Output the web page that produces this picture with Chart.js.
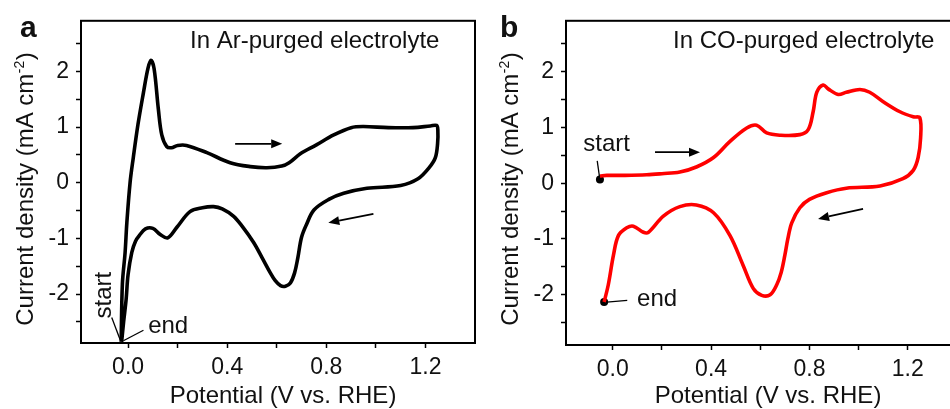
<!DOCTYPE html>
<html>
<head>
<meta charset="utf-8">
<script src="https://cdn.jsdelivr.net/npm/chart.js@4.4.0/dist/chart.umd.min.js"></script>
<style>
  html, body { margin: 0; padding: 0; background: #fff; overflow: hidden; width: 950px; height: 409px; }
  #wrapA { position: absolute; left: 0; top: 0; width: 480px; height: 409px; }
  #wrapB { position: absolute; left: 480px; top: 0; width: 490px; height: 409px; }
</style>
</head>
<body>
<div id="wrapA"><canvas id="chartA"></canvas></div>
<div id="wrapB"><canvas id="chartB"></canvas></div>
<script>
// panel a - Ar-purged electrolyte (potential V vs RHE, current density mA cm-2)
const arPotential = [-0.028, -0.023, -0.012, -0.005, 0.008, 0.021, 0.04, 0.062, 0.08, 0.092, 0.105, 0.122, 0.136, 0.156,
  0.175, 0.2, 0.236, 0.318, 0.412, 0.493, 0.56, 0.62, 0.65, 0.695, 0.76, 0.83, 0.9, 0.95, 1.05, 1.15, 1.22, 1.245,
  1.25, 1.249, 1.24, 1.215, 1.17, 1.1, 0.964, 0.87, 0.81, 0.75, 0.72, 0.7, 0.685, 0.672, 0.655, 0.635, 0.615, 0.594,
  0.574, 0.54, 0.506, 0.46, 0.425, 0.38, 0.345, 0.3, 0.25, 0.197, 0.16, 0.13, 0.1, 0.07, 0.045, 0.03, 0.015, 0.0,
  -0.008, -0.018, -0.026];
const arCurrent = [-2.86, -1.82, -1.25, -0.72, 0.0, 0.45, 1.05, 1.62, 2.05, 2.2, 2.05, 1.33, 0.86, 0.65,
  0.63, 0.67, 0.67, 0.54, 0.36, 0.29, 0.27, 0.3, 0.36, 0.52, 0.68, 0.86, 0.99, 1.01, 0.99, 0.99, 1.02, 1.03,
  0.95, 0.7, 0.45, 0.27, 0.07, -0.05, -0.1, -0.19, -0.3, -0.49, -0.75, -0.98, -1.35, -1.62, -1.8, -1.86, -1.85, -1.76,
  -1.62, -1.34, -1.07, -0.78, -0.6, -0.47, -0.43, -0.45, -0.52, -0.8, -0.99, -0.93, -0.82, -0.83, -0.95, -1.05, -1.25, -1.65,
  -2.1, -2.5, -2.86];

// panel b - CO-purged electrolyte
const coPotential = [-0.052, -0.024, 0.05, 0.138, 0.2, 0.273, 0.34, 0.41, 0.477, 0.545, 0.585, 0.626, 0.68, 0.761,
  0.795, 0.815, 0.83, 0.856, 0.876, 0.917, 0.95, 1.005, 1.045, 1.1, 1.168, 1.222, 1.249, 1.252, 1.242, 1.222, 1.18,
  1.087, 0.95, 0.87, 0.8, 0.761, 0.728, 0.712, 0.7, 0.685, 0.667, 0.64, 0.606, 0.572, 0.53, 0.477, 0.41, 0.34, 0.273,
  0.206, 0.145, 0.125, 0.084, 0.057, 0.023, 0.003, -0.018, -0.035];
const coCurrent = [0.13, 0.14, 0.14, 0.15, 0.17, 0.2, 0.29, 0.46, 0.75, 0.99, 1.04, 0.9, 0.86, 0.87,
  0.96, 1.28, 1.63, 1.76, 1.69, 1.59, 1.63, 1.68, 1.63, 1.46, 1.28, 1.19, 1.17, 0.81, 0.46, 0.23, 0.08,
  -0.05, -0.09, -0.17, -0.29, -0.44, -0.71, -1.0, -1.29, -1.6, -1.82, -2.0, -2.01, -1.89, -1.47, -0.94, -0.53, -0.39, -0.42,
  -0.59, -0.88, -0.88, -0.77, -0.8, -0.94, -1.29, -1.82, -2.13];
const coMarkerPotential = [-0.052, -0.035];
const coMarkerCurrent = [0.065, -2.13];

const xTickValues = [0, 0.2, 0.4, 0.6, 0.8, 1.0, 1.2];
const xTickLabels = ['0.0', '', '0.4', '', '0.8', '', '1.2'];
const yTickValues = [-2.5, -2, -1.5, -1, -0.5, 0, 0.5, 1, 1.5, 2, 2.5];
const yTickLabels = ['', '-2', '', '-1', '', '0', '', '1', '', '2', ''];

const FONT = "'Liberation Sans', Arial, Helvetica, sans-serif";
const INK = '#111';

function toPoints(xs, ys) {
  return xs.map((x, i) => ({ x: x, y: ys[i] }));
}

function labelFor(values, labels, v) {
  const i = values.findIndex(t => Math.abs(t - v) < 1e-6);
  return i < 0 ? '' : labels[i];
}

function drawArrow(ctx, x1, y1, x2, y2) {
  const ang = Math.atan2(y2 - y1, x2 - x1);
  const head = 11, half = 4.5;
  ctx.beginPath();
  ctx.moveTo(x1, y1);
  ctx.lineTo(x2 - Math.cos(ang) * head, y2 - Math.sin(ang) * head);
  ctx.lineWidth = 1.8;
  ctx.stroke();
  ctx.beginPath();
  ctx.moveTo(x2, y2);
  ctx.lineTo(x2 - Math.cos(ang) * head + Math.sin(ang) * half, y2 - Math.sin(ang) * head - Math.cos(ang) * half);
  ctx.lineTo(x2 - Math.cos(ang) * head - Math.sin(ang) * half, y2 - Math.sin(ang) * head + Math.cos(ang) * half);
  ctx.closePath();
  ctx.fill();
}

// frame, panel letter, notes, axis titles, arrows and start/end callouts
function panelDecor(cfg) {
  return {
    id: 'decor',
    afterDraw(chart) {
      const ctx = chart.ctx;
      const a = chart.chartArea;
      const sx = chart.scales.x, sy = chart.scales.y;
      const px = v => sx.getPixelForValue(v);
      const py = v => sy.getPixelForValue(v);
      ctx.save();
      ctx.strokeStyle = '#000';
      ctx.fillStyle = INK;
      ctx.lineWidth = 2;
      ctx.strokeRect(a.left, a.top, a.right - a.left, a.bottom - a.top);

      ctx.font = 'bold 30px ' + FONT;
      ctx.textBaseline = 'alphabetic';
      ctx.textAlign = 'left';
      ctx.fillText(cfg.letter, 20, 37);

      ctx.font = '24px ' + FONT;
      ctx.fillText(cfg.note, a.left + cfg.noteDx, 48);

      ctx.textAlign = 'center';
      ctx.fillText('Potential (V vs. RHE)', cfg.xTitleX, 403);

      // rotated y title with superscript
      const main = 'Current density (mA cm', sup = '-2', tail = ')';
      ctx.font = '24px ' + FONT;
      const wMain = ctx.measureText(main).width, wTail = ctx.measureText(tail).width;
      ctx.font = '14px ' + FONT;
      const wSup = ctx.measureText(sup).width + 1;
      const total = wMain + wSup + wTail;
      ctx.translate(cfg.yTitleX, 189);
      ctx.rotate(-Math.PI / 2);
      ctx.textAlign = 'left';
      ctx.font = '24px ' + FONT;
      ctx.fillText(main, -total / 2, 0);
      ctx.font = '14px ' + FONT;
      ctx.fillText(sup, -total / 2 + wMain + 0.5, -9);
      ctx.font = '24px ' + FONT;
      ctx.fillText(tail, -total / 2 + wMain + wSup, 0);
      ctx.setTransform(1, 0, 0, 1, 0, 0);
      ctx.scale(chart.currentDevicePixelRatio, chart.currentDevicePixelRatio);

      ctx.fillStyle = '#000';
      cfg.arrows.forEach(r => drawArrow(ctx, px(r[0]), py(r[1]), px(r[2]), py(r[3])));

      ctx.lineWidth = 1.3;
      cfg.pointers.forEach(r => {
        ctx.beginPath();
        ctx.moveTo(px(r[0]), py(r[1]));
        ctx.lineTo(px(r[2]), py(r[3]));
        ctx.stroke();
      });

      ctx.fillStyle = INK;
      ctx.font = '24px ' + FONT;
      ctx.textAlign = 'left';
      cfg.labels.forEach(l => {
        ctx.save();
        ctx.translate(px(l.x), py(l.y));
        if (l.rot) ctx.rotate(l.rot);
        ctx.fillText(l.text, 0, 0);
        ctx.restore();
      });
      ctx.restore();
    }
  };
}

function buildChart(canvasId, cfg) {
  const datasets = [{
    data: toPoints(cfg.xs, cfg.ys),
    showLine: true,
    borderColor: cfg.color,
    borderWidth: 3.6,
    pointRadius: 0,
    tension: 0.35,
    fill: false
  }];
  if (cfg.markerXs) {
    datasets.push({
      data: toPoints(cfg.markerXs, cfg.markerYs),
      showLine: false,
      pointRadius: 4,
      pointBackgroundColor: '#000',
      pointBorderWidth: 0
    });
  }
  return new Chart(document.getElementById(canvasId), {
    type: 'scatter',
    data: { datasets: datasets },
    options: {
      responsive: true,
      maintainAspectRatio: false,
      animation: false,
      events: [],
      layout: { autoPadding: false, padding: cfg.padding },
      plugins: { legend: { display: false }, tooltip: { enabled: false } },
      scales: {
        x: {
          type: 'linear', min: -0.19, max: 1.40,
          afterBuildTicks: s => { s.ticks = xTickValues.map(v => ({ value: v })); },
          afterFit: s => { s.height = cfg.xAxisHeight; },
          ticks: {
            callback: v => labelFor(xTickValues, xTickLabels, v),
            font: { size: 23, family: FONT }, color: INK, padding: 6, maxRotation: 0, autoSkip: false
          },
          grid: { drawOnChartArea: false, drawTicks: true, tickLength: 5, tickColor: '#000', tickWidth: 1.5 },
          border: { display: true, color: '#000', width: 2 }
        },
        y: {
          type: 'linear', min: cfg.yMin, max: cfg.yMax,
          afterBuildTicks: s => { s.ticks = yTickValues.map(v => ({ value: v })); },
          afterFit: s => { s.width = cfg.yAxisWidth; },
          ticks: {
            callback: v => labelFor(yTickValues, yTickLabels, v),
            font: { size: 23, family: FONT }, color: INK, padding: 7, autoSkip: false
          },
          grid: { drawOnChartArea: false, drawTicks: true, tickLength: 5, tickColor: '#000', tickWidth: 1.5 },
          border: { display: true, color: '#000', width: 2 }
        }
      }
    },
    plugins: [panelDecor(cfg)]
  });
}

buildChart('chartA', {
  xs: arPotential, ys: arCurrent, color: '#000',
  yMin: -2.88, yMax: 2.91,
  padding: { left: 0, top: 13, right: 5, bottom: 0 },
  yAxisWidth: 81, xAxisHeight: 66,
  letter: 'a', note: 'In Ar-purged electrolyte', noteDx: 109,
  xTitleX: 283, yTitleX: 33,
  arrows: [[0.432, 0.70, 0.622, 0.70], [0.99, -0.56, 0.808, -0.72]],
  pointers: [[-0.066, -2.42, -0.032, -2.82], [0.062, -2.65, -0.019, -2.84]],
  labels: [
    { text: 'start', x: -0.069, y: -2.44, rot: -Math.PI / 2 },
    { text: 'end', x: 0.081, y: -2.70 }
  ]
});

buildChart('chartB', {
  xs: coPotential, ys: coCurrent, color: '#ff0000',
  markerXs: coMarkerPotential, markerYs: coMarkerCurrent,
  yMin: -2.9, yMax: 2.91,
  padding: { left: 0, top: 14, right: 13, bottom: 0 },
  yAxisWidth: 86, xAxisHeight: 64,
  letter: 'b', note: 'In CO-purged electrolyte', noteDx: 107,
  xTitleX: 288, yTitleX: 38,
  arrows: [[0.172, 0.556, 0.355, 0.556], [1.018, -0.46, 0.835, -0.64]],
  pointers: [[-0.063, 0.40, -0.054, 0.12], [0.059, -2.10, -0.024, -2.13]],
  labels: [
    { text: 'start', x: -0.12, y: 0.57 },
    { text: 'end', x: 0.099, y: -2.20 }
  ]
});
</script>
</body>
</html>
